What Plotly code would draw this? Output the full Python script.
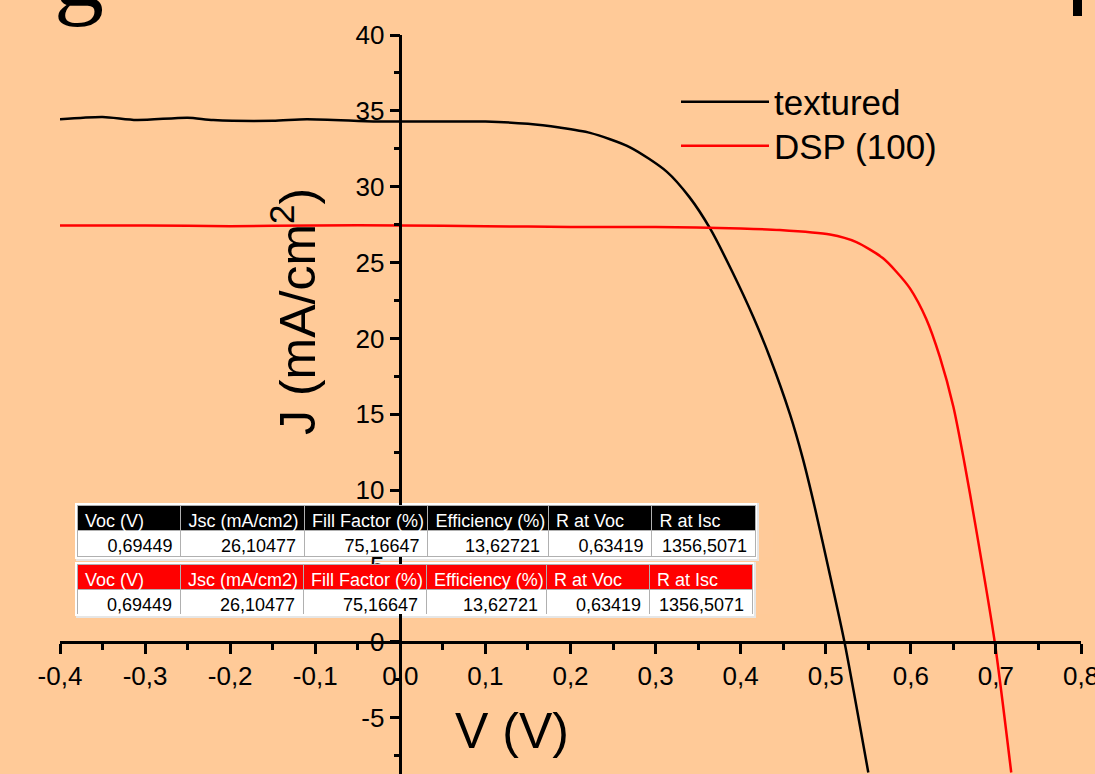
import plotly.graph_objects as go

# ---------------- data ----------------
textured_v = [-0.40, -0.35, -0.31, -0.25, -0.22, -0.15, -0.11, -0.03, 0.00, 0.05, 0.10, 0.15,
              0.187, 0.223, 0.270, 0.313, 0.340, 0.364, 0.391, 0.415, 0.434, 0.458, 0.473,
              0.487, 0.505, 0.522, 0.550]
textured_j = [34.45, 34.6, 34.4, 34.55, 34.4, 34.35, 34.45, 34.3, 34.3, 34.3, 34.3, 34.15,
              33.9, 33.55, 32.6, 31.0, 29.3, 27.25, 24.3, 21.4, 18.8, 15.0, 12.1,
              8.9, 4.4, 0.0, -8.6]

dsp_v = [-0.40, -0.30, -0.20, -0.10, 0.00, 0.10, 0.20, 0.30, 0.40, 0.446, 0.505, 0.536,
         0.567, 0.583, 0.599, 0.618, 0.634, 0.650, 0.663, 0.675, 0.6986, 0.718]
dsp_j = [27.45, 27.45, 27.4, 27.45, 27.45, 27.4, 27.35, 27.35, 27.25, 27.15, 26.85, 26.35,
         25.3, 24.4, 23.3, 21.3, 18.8, 15.5, 11.8, 8.0, 0.0, -8.6]

x_ticks = [-0.4, -0.3, -0.2, -0.1, 0.0, 0.1, 0.2, 0.3, 0.4, 0.5, 0.6, 0.7, 0.8]
x_tick_labels = ["-0,4", "-0,3", "-0,2", "-0,1", "0,0", "0,1", "0,2", "0,3", "0,4",
                 "0,5", "0,6", "0,7", "0,8"]
y_ticks = [-5, 0, 5, 10, 15, 20, 25, 30, 35, 40]
y_tick_labels = ["-5", "0", "5", "10", "15", "20", "25", "30", "35", "40"]

table_headers = ["Voc (V)", "Jsc (mA/cm2)", "Fill Factor (%)", "Efficiency (%)", "R at Voc", "R at Isc"]
table1_values = ["0,69449", "26,10477", "75,16647", "13,62721", "0,63419", "1356,5071"]
table2_values = ["0,69449", "26,10477", "75,16647", "13,62721", "0,63419", "1356,5071"]
table_col_widths = [103, 123, 123, 120, 103, 103]

# ---------------- layout geometry ----------------
W, H = 1095, 774
ML, MR, MT, MB = 60, 14, 35, 0
PW, PH = W - ML - MR, H - MT - MB
X_RANGE = [-0.4, 0.8]
Y_RANGE = [-8.7, 40]

def px_x(p):
    return (p - ML) / PW

def px_y(p):
    return (H - MB - p) / PH

FONT = "Liberation Sans, Arial, sans-serif"
BG = "#FFCA98"

fig = go.Figure()
fig.add_trace(go.Scatter(x=textured_v, y=textured_j, mode="lines", name="textured", legend="legend",
                         line=dict(color="black", width=2.5, shape="spline", smoothing=0.7)))
fig.add_trace(go.Scatter(x=dsp_v, y=dsp_j, mode="lines", name="DSP (100)", legend="legend2",
                         line=dict(color="#FF0000", width=2.5, shape="spline", smoothing=0.7)))

NB = "\u00a0"
frames = []

def add_table(values, header_color, x0, x1, y0, y1):
    fig.add_trace(go.Table(
        domain=dict(x=[px_x(x0), px_x(x1)], y=[px_y(y1), px_y(y0)]),
        columnwidth=table_col_widths,
        header=dict(values=[h.replace(" ", NB) for h in table_headers], fill_color=header_color,
                    font=dict(color="white", size=18, family=FONT), align="left",
                    height=25, line=dict(color="#b0b0b0", width=1)),
        cells=dict(values=[[v] for v in values], fill_color="white",
                   font=dict(color="black", size=18, family=FONT), align="right",
                   height=26, line=dict(color="#b0b0b0", width=1)),
    ))
    # white frame and light shadow around the table block
    frames.append(dict(type="rect", xref="paper", yref="paper", layer="below",
                       x0=px_x(x0 - 1), x1=px_x(x1 + 4), y0=px_y(y1 + 4), y1=px_y(y0 - 2),
                       fillcolor="#e6e6e6", line=dict(width=0)))
    frames.append(dict(type="rect", xref="paper", yref="paper", layer="below",
                       x0=px_x(x0 - 2), x1=px_x(x1 + 2), y0=px_y(y1 + 2), y1=px_y(y0 - 2),
                       fillcolor="white", line=dict(width=0)))

add_table(table1_values, "black", 77, 755, 505, 557)
add_table(table2_values, "#FF0000", 77, 752, 564, 614)

y0_frac = (0 - Y_RANGE[0]) / (Y_RANGE[1] - Y_RANGE[0])
x0_frac = (0 - X_RANGE[0]) / (X_RANGE[1] - X_RANGE[0])

legend_common = dict(xanchor="left", yanchor="middle", bgcolor="rgba(0,0,0,0)",
                     font=dict(size=35), itemwidth=88)

fig.update_layout(
    width=W, height=H, autosize=False,
    margin=dict(l=ML, r=MR, t=MT, b=MB, pad=0, autoexpand=False),
    paper_bgcolor=BG, plot_bgcolor=BG,
    font=dict(family=FONT, color="black"),
    xaxis=dict(range=X_RANGE, anchor="free", position=y0_frac, showgrid=False, zeroline=False,
               automargin=False,
               showline=True, linecolor="black", linewidth=2.5,
               ticks="outside", ticklen=10, tickwidth=2.5, tickcolor="black",
               tickvals=x_ticks, ticktext=x_tick_labels, tickfont=dict(size=26),
               ticklabeloverflow="allow",
               minor=dict(ticks="outside", ticklen=6, tickwidth=2.5, tickcolor="black",
                          dtick=0.05, tick0=0, showgrid=False)),
    yaxis=dict(range=Y_RANGE, anchor="free", position=x0_frac, showgrid=False, zeroline=False,
               automargin=False,
               showline=True, linecolor="black", linewidth=2.5,
               ticks="outside", ticklen=10, tickwidth=2.5, tickcolor="black",
               tickvals=y_ticks, ticktext=y_tick_labels, tickfont=dict(size=26),
               minor=dict(ticks="outside", ticklen=6, tickwidth=2.5, tickcolor="black",
                          dtick=2.5, tick0=0, showgrid=False)),
    showlegend=True,
    legend=dict(x=px_x(676), y=px_y(102), **legend_common),
    legend2=dict(x=px_x(676), y=px_y(146), **legend_common),
    annotations=[
        dict(text="J (mA/cm<sup>2</sup>)", textangle=-90, showarrow=False,
             x=px_x(294), y=px_y(312), xref="paper", yref="paper",
             xanchor="center", yanchor="middle", font=dict(size=50)),
        dict(text="V (V)", showarrow=False, x=px_x(512), y=px_y(731),
             xref="paper", yref="paper", xanchor="center", yanchor="middle",
             font=dict(size=50)),
        dict(text="g", showarrow=False, x=px_x(52), y=px_y(30), xref="paper", yref="paper",
             xanchor="left", yanchor="bottom",
             font=dict(size=100, family="Liberation Serif, Times New Roman, serif")),
    ],
    shapes=frames + [
        dict(type="rect", xref="paper", yref="paper", x0=px_x(1073), x1=px_x(1082),
             y0=px_y(16), y1=px_y(-5), fillcolor="black", line=dict(width=0)),
    ],
)

fig.write_html("out.html", config={"displayModeBar": False},
               post_script="document.body.style.margin='0px';document.body.style.overflow='hidden';")
